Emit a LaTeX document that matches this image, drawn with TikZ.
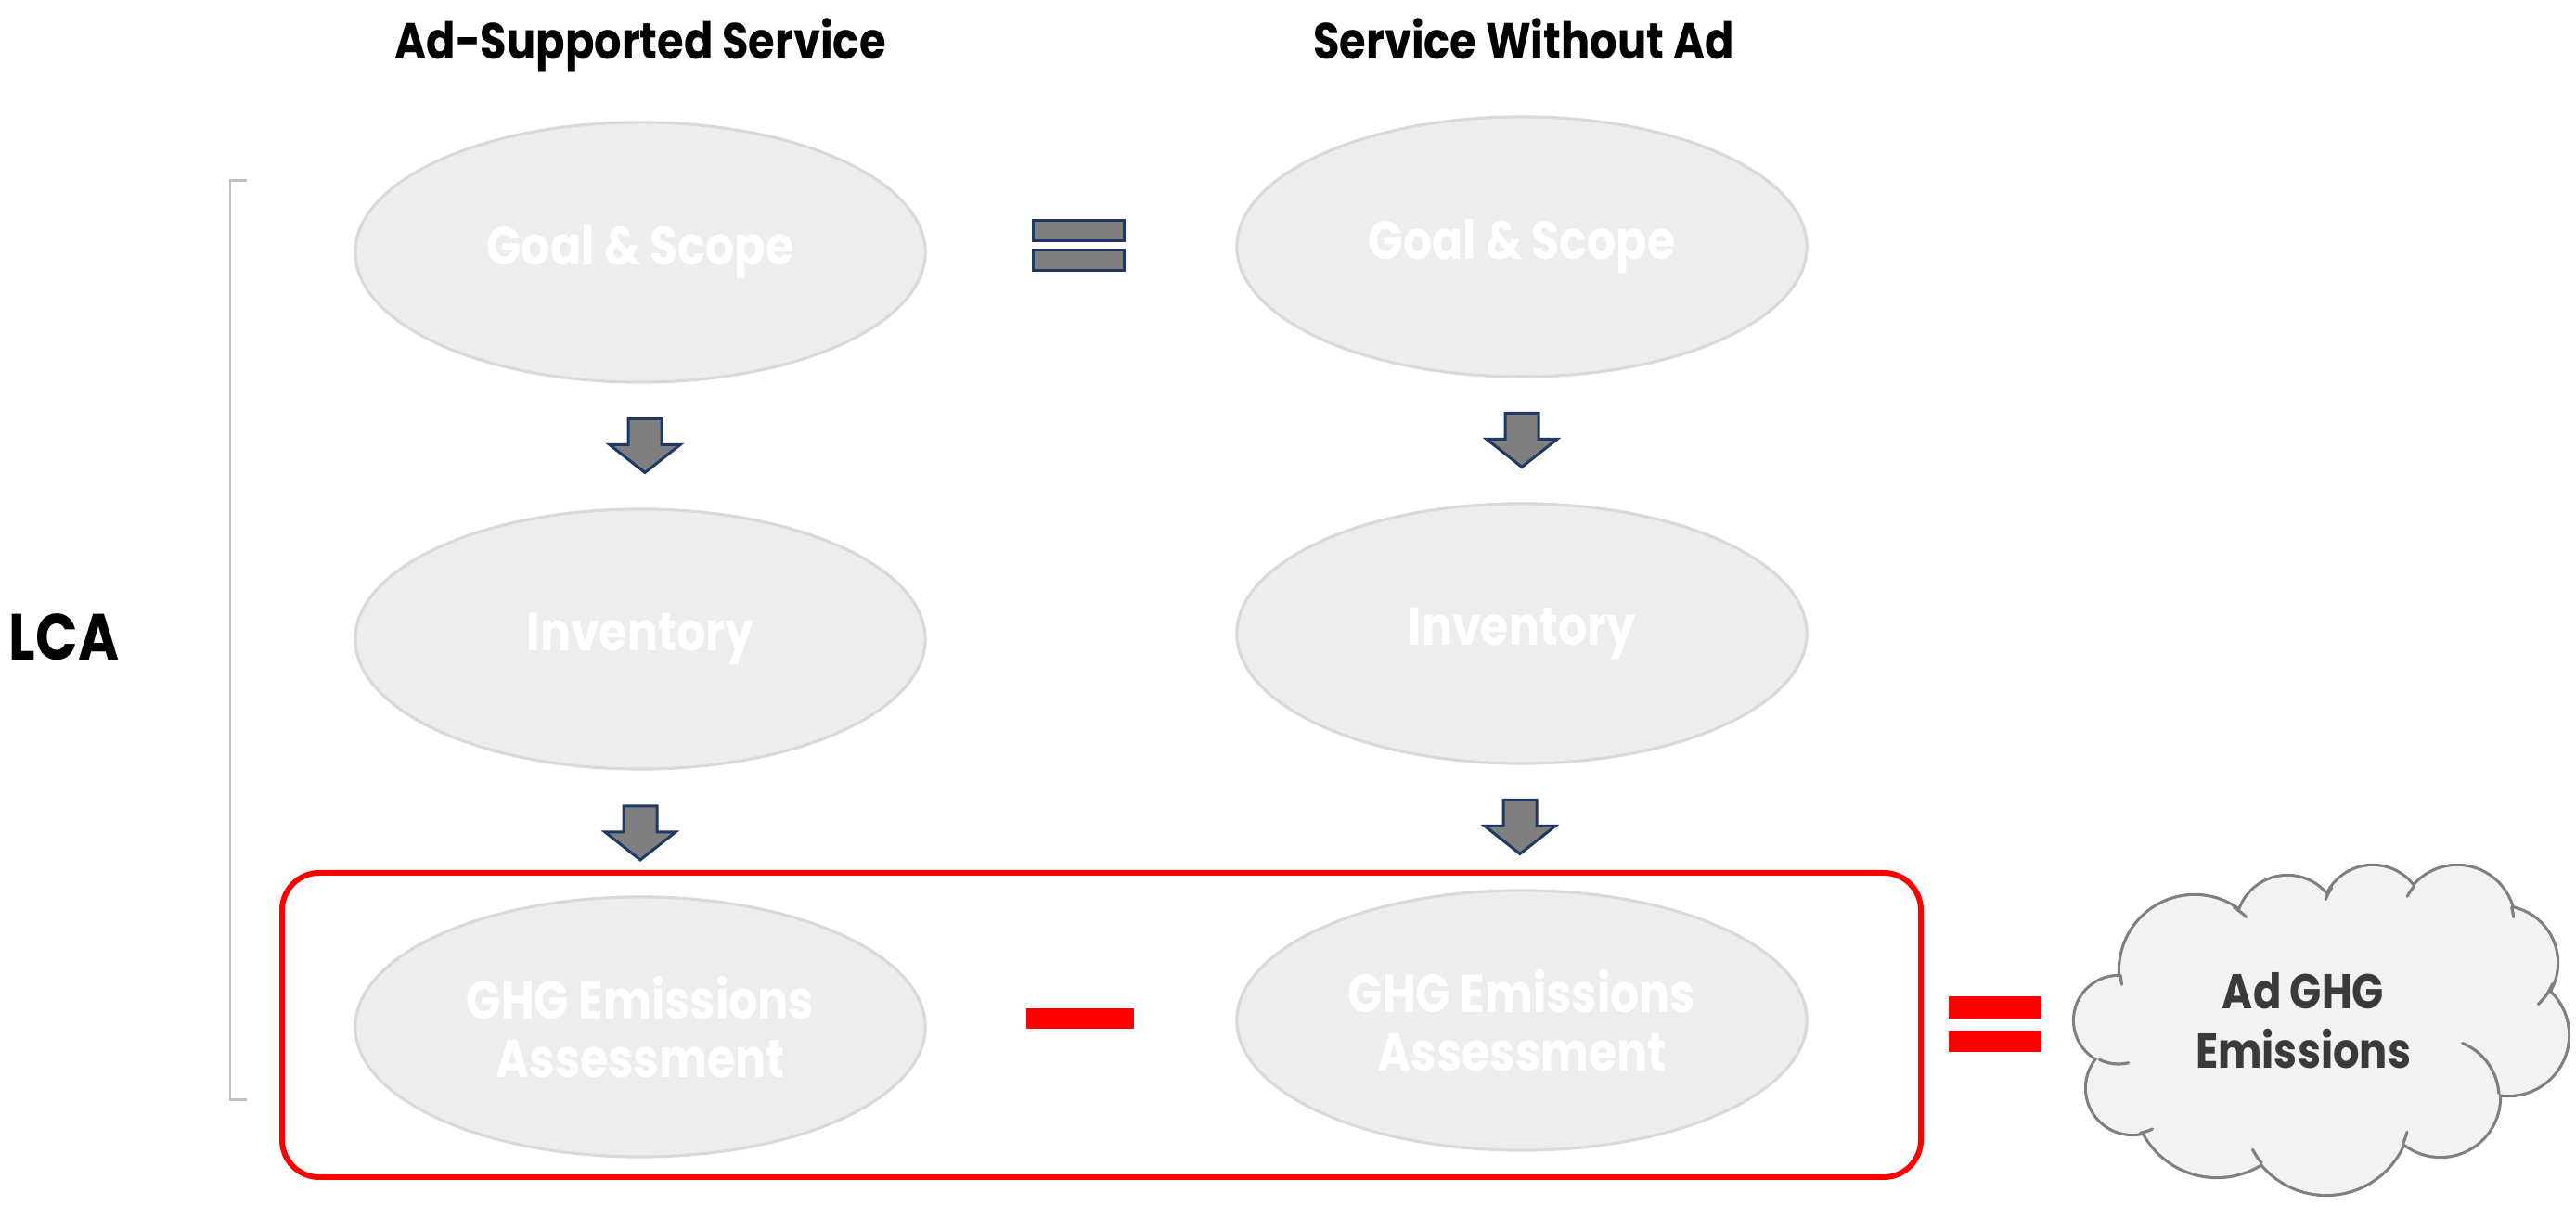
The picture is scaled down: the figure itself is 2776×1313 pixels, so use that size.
\documentclass[tikz,border=0pt]{standalone}
\usepackage{fontspec}
\setmainfont{Poppins}[FakeStretch=0.85]
\usetikzlibrary{calc,shapes.geometric}
\definecolor{ellfill}{HTML}{EDEDED}
\definecolor{elldraw}{HTML}{D9D9D9}
\definecolor{arrfill}{HTML}{7F7F7F}
\definecolor{navy}{HTML}{1F3864}
\definecolor{brack}{HTML}{BFBFBF}
\definecolor{cloudfill}{HTML}{F2F2F2}
\definecolor{cloudline}{HTML}{7F7F7F}
\definecolor{cloudtxt}{HTML}{3A3A3A}
\definecolor{redc}{HTML}{FF0000}
\begin{document}
\begin{tikzpicture}[x=0.01cm,y=0.01cm,
  phase/.style={ellipse, draw=elldraw, fill=ellfill, line width=0.9pt,
    minimum width=6.14cm, minimum height=2.8cm, inner sep=0pt,
    text=white, font=\fontsize{16.4}{17.8}\selectfont\bfseries, align=center},
  coltitle/.style={anchor=base, font=\fontsize{15.5}{18}\selectfont\bfseries, text=black},
  blockarr/.style={fill=arrfill, draw=navy, line width=0.85pt, line join=miter},
  redbar/.style={fill=redc, draw=none},
  downarr/.pic={\draw[blockarr] (-18,29) -- (18,29) -- (18,1) -- (38,1) -- (0,-29) -- (-38,1) -- (-18,1) -- cycle;}
]
\useasboundingbox (0,0) rectangle (2776,1313);

% column titles
\node[coltitle] (tleft) at (690,1249) {Ad-Supported Service};
\node[coltitle] (tright) at (1642,1249) {Service Without Ad};

% LCA label and bracket
\node[anchor=base, font=\fontsize{20}{24}\selectfont\bfseries] (lca) at (69,601) {LCA};
\draw[brack, line width=0.85pt] (266,1118) -- (248,1118) -- (248,127) -- (266,127);

% phases
\node[phase] (goalL) at (690,1041) {Goal \& Scope};
\node[phase] (goalR) at (1640,1047) {Goal \& Scope};
\node[phase] (invL) at (690,624) {Inventory};
\node[phase] (invR) at (1640,630) {Inventory};
\node[phase] (ghgL) at (690,206) {GHG Emissions\\Assessment};
\node[phase] (ghgR) at (1640,213) {GHG Emissions\\Assessment};

% down arrows
\pic at ($(goalL.south)!0.5!(invL.north)+(5,0)$) {downarr};
\pic at ($(invL.south)!0.5!(ghgL.north)$) {downarr};
\pic at ($(goalR.south)!0.5!(invR.north)$) {downarr};
\pic at ($(invR.south)!0.5!(ghgR.north)+(-2,0)$) {downarr};

% grey equals sign
\draw[blockarr] (1113,1053) rectangle (1211,1075);
\draw[blockarr] (1113,1021) rectangle (1211,1043);

% red box, minus and equals
\draw[redc, line width=1.7pt, rounded corners=0.4cm] (304,44) rectangle (2070,372);
\fill[redbar] (1106,204) rectangle (1222,226);
\fill[redbar] (2100,215) rectangle (2200,239);
\fill[redbar] (2100,179) rectangle (2200,202);

% cloud
\foreach \cx/\cy/\r in {2283/213/47, 2298/140/49, 2389/134/89, 2507/116/90, 2630/130/63, 2703/197/64, 2695/275/60, 2648/318/61, 2557/325/54, 2465/314/54, 2365/267/80}
  \draw[cloudline, line width=1.8pt] (\cx,\cy) circle[radius=\r];
\foreach \cx/\cy/\r in {2283/213/47, 2298/140/49, 2389/134/89, 2507/116/90, 2630/130/63, 2703/197/64, 2695/275/60, 2648/318/61, 2557/325/54, 2465/314/54, 2365/267/80}
  \fill[cloudfill] (\cx,\cy) circle[radius=\r];
\fill[cloudfill] (2283,213) -- (2298,140) -- (2389,134) -- (2507,116) -- (2630,130) -- (2703,197) -- (2695,275) -- (2648,318) -- (2557,325) -- (2465,314) -- (2365,267) -- cycle;
\foreach \cx/\cy/\r/\a/\b in {2630/130/63/4/68, 2695/275/60/-22/-48, 2648/318/61/16/6, 2648/318/61/140/152, 2557/325/54/145/160, 2365/267/80/58/46, 2365/267/80/184/191, 2283/213/47/244/283, 2298/140/49/280/296, 2507/116/90/219/208, 2507/116/90/336/345}
  \draw[cloudline, line width=0.9pt, line cap=round] (\cx,\cy) ++(\a:\r) arc[start angle=\a, end angle=\b, radius=\r];
\node[font=\fontsize{15}{18.3}\selectfont\bfseries, text=cloudtxt, align=center] (adghg) at (2482,213) {Ad GHG\\Emissions};
\end{tikzpicture}
\end{document}
